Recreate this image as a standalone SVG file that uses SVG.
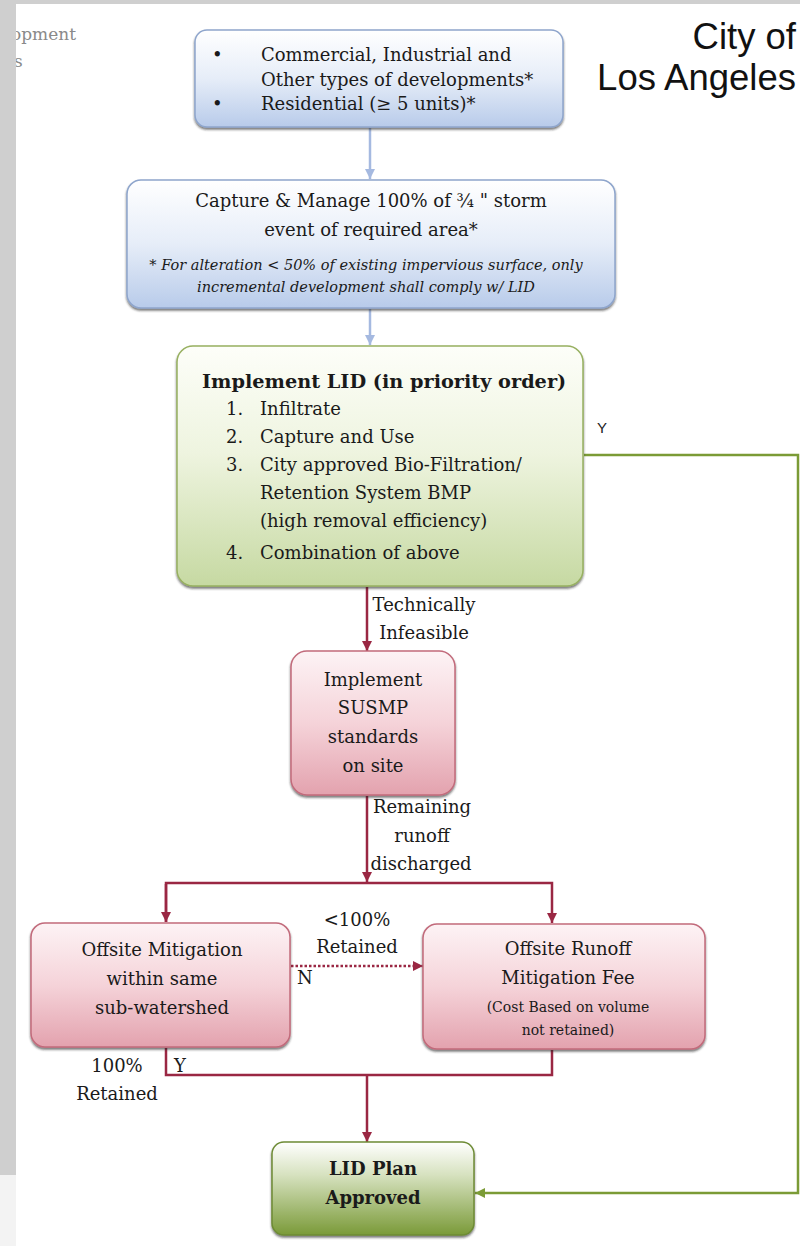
<svg xmlns="http://www.w3.org/2000/svg" width="800" height="1246" viewBox="0 0 800 1246">
<style>
.t{font-family:"DejaVu Serif","Liberation Serif",serif;font-size:18px;fill:#1a1a1a}
.c{text-anchor:middle}
.b{font-weight:bold}
.i{font-style:italic;font-size:14.5px}
.s{font-size:14px}
.h{font-size:19.3px}
.red{stroke:#9a2743;stroke-width:2.5;fill:none}
.grn{stroke:#7b9b36;stroke-width:2.5;fill:none}
.blu{stroke:#a5b9e0;stroke-width:2.5;fill:none}
</style>
<defs>
<linearGradient id="gBlue" x1="0" y1="0" x2="0" y2="1"><stop offset="0" stop-color="#ffffff"/><stop offset="0.5" stop-color="#e6edf8"/><stop offset="1" stop-color="#b8cbea"/></linearGradient>
<linearGradient id="gGreen" x1="0" y1="0" x2="0" y2="1"><stop offset="0" stop-color="#fdfef9"/><stop offset="0.45" stop-color="#eef4df"/><stop offset="1" stop-color="#c6d9a2"/></linearGradient>
<linearGradient id="gPink" x1="0" y1="0" x2="0" y2="1"><stop offset="0" stop-color="#fdf3f5"/><stop offset="0.5" stop-color="#f5d3d9"/><stop offset="1" stop-color="#e3a2ae"/></linearGradient>
<linearGradient id="gOk" x1="0" y1="0" x2="0" y2="1"><stop offset="0" stop-color="#ffffff"/><stop offset="0.35" stop-color="#d7e2c0"/><stop offset="1" stop-color="#7a9a38"/></linearGradient>
<filter id="sh" x="-5%" y="-5%" width="110%" height="115%"><feDropShadow dx="0" dy="2" stdDeviation="1.2" flood-color="#222" flood-opacity="0.6"/></filter>
<marker id="aR" markerUnits="userSpaceOnUse" markerWidth="11" markerHeight="11" refX="10" refY="5" orient="auto"><path d="M0,0 L10,5 L0,10 z" fill="#9a2743"/></marker>
<marker id="aB" markerUnits="userSpaceOnUse" markerWidth="11" markerHeight="11" refX="10" refY="5" orient="auto"><path d="M0,0 L10,5 L0,10 z" fill="#a5b9e0"/></marker>
<marker id="aG" markerUnits="userSpaceOnUse" markerWidth="11" markerHeight="11" refX="10" refY="5" orient="auto"><path d="M0,0 L10,5 L0,10 z" fill="#7b9b36"/></marker>
</defs>
<rect x="0" y="0" width="800" height="1246" fill="#ffffff"/>
<text x="11" y="40" font-family="DejaVu Serif,serif" font-size="17" fill="#8a8a8a">opment</text>
<text x="14" y="67" font-family="DejaVu Serif,serif" font-size="17" fill="#8a8a8a">s</text>
<rect x="0" y="0" width="800" height="4" fill="#cfcfcf"/>
<rect x="0" y="0" width="16" height="1175" fill="#cfcfcf"/>
<rect x="0" y="1175" width="16" height="71" fill="#f3f3f3"/>
<g id="title">
<text x="796" y="49" font-family="Liberation Sans,Arial,sans-serif" font-size="36.5" text-anchor="end" fill="#111">City of</text>
<text x="796" y="90" font-family="Liberation Sans,Arial,sans-serif" font-size="36.5" text-anchor="end" fill="#111">Los Angeles</text>
</g>
<g id="connectors">
<line class="blu" x1="370" y1="128" x2="370" y2="179" marker-end="url(#aB)"/>
<line class="blu" x1="370" y1="309" x2="370" y2="345" marker-end="url(#aB)"/>
<line class="red" x1="367" y1="587" x2="367" y2="651" marker-end="url(#aR)"/>
<line class="red" x1="367" y1="796" x2="367" y2="882" marker-end="url(#aR)"/>
<polyline class="red" points="166,922 166,883 552,883 552,923" marker-end="url(#aR)"/>
<line class="red" x1="166" y1="884" x2="166" y2="922" marker-end="url(#aR)"/>
<line class="red" x1="291" y1="966" x2="423" y2="966" stroke-dasharray="2.5 2" marker-end="url(#aR)"/>
<polyline class="red" points="166,1048 166,1075 552,1075 552,1050"/>
<line class="red" x1="367" y1="1075" x2="367" y2="1142" marker-end="url(#aR)"/>
<polyline class="grn" points="584,455 798,455 798,1193 475,1193" marker-end="url(#aG)"/>
<text class="t c" x="424" y="611">Technically</text>
<text class="t c" x="424" y="639">Infeasible</text>
<text class="t c" x="422" y="813">Remaining</text>
<text class="t c" x="422" y="842">runoff</text>
<text class="t c" x="421" y="870">discharged</text>
<text class="t c" x="357" y="926">&lt;100%</text>
<text class="t c" x="357" y="953">Retained</text>
<text class="t" x="297" y="984">N</text>
<text class="t c" x="117" y="1072">100%</text>
<text class="t c" x="117" y="1100">Retained</text>
<text class="t" x="174" y="1072">Y</text>
<text x="597" y="433" font-family="Liberation Sans,Arial,sans-serif" font-size="15" fill="#222">Y</text>
</g>
<g id="n1">
<rect x="195" y="30" width="368" height="97" rx="12" fill="url(#gBlue)" stroke="#8ea5cc" stroke-width="1.5" filter="url(#sh)"/>
<text class="t" x="212" y="61">•</text>
<text class="t" x="261" y="61">Commercial, Industrial and</text>
<text class="t" x="261" y="86">Other types of developments*</text>
<text class="t" x="212" y="110">•</text>
<text class="t" x="261" y="110">Residential (≥ 5 units)*</text>
</g>
<g id="n2">
<rect x="127" y="180" width="488" height="128" rx="14" fill="url(#gBlue)" stroke="#8ea5cc" stroke-width="1.5" filter="url(#sh)"/>
<text class="t c" x="371" y="207">Capture &amp; Manage 100% of ¾ " storm</text>
<text class="t c" x="371" y="236">event of required area*</text>
<text class="t c i" x="366" y="270">* For alteration &lt; 50% of existing impervious surface, only</text>
<text class="t c i" x="366" y="292">incremental development shall comply w/ LID</text>
</g>
<g id="n3">
<rect x="177" y="346" width="406" height="240" rx="16" fill="url(#gGreen)" stroke="#97b060" stroke-width="1.5" filter="url(#sh)"/>
<text class="t b h" x="202" y="388">Implement LID (in priority order)</text>
<text class="t" x="226" y="415">1.</text>
<text class="t" x="260" y="415">Infiltrate</text>
<text class="t" x="226" y="443">2.</text>
<text class="t" x="260" y="443">Capture and Use</text>
<text class="t" x="226" y="471">3.</text>
<text class="t" x="260" y="471">City approved Bio-Filtration/</text>
<text class="t" x="260" y="499">Retention System BMP</text>
<text class="t" x="260" y="527">(high removal efficiency)</text>
<text class="t" x="226" y="559">4.</text>
<text class="t" x="260" y="559">Combination of above</text>
</g>
<g id="n4">
<rect x="291" y="651" width="164" height="144" rx="16" fill="url(#gPink)" stroke="#c26b7b" stroke-width="1.5" filter="url(#sh)"/>
<text class="t c" x="373" y="686">Implement</text>
<text class="t c" x="373" y="714">SUSMP</text>
<text class="t c" x="373" y="743">standards</text>
<text class="t c" x="373" y="772">on site</text>
</g>
<g id="n5">
<rect x="31" y="923" width="259" height="124" rx="14" fill="url(#gPink)" stroke="#c26b7b" stroke-width="1.5" filter="url(#sh)"/>
<text class="t c" x="162" y="956">Offsite Mitigation</text>
<text class="t c" x="162" y="985">within same</text>
<text class="t c" x="162" y="1014">sub-watershed</text>
</g>
<g id="n6">
<rect x="423" y="924" width="282" height="125" rx="14" fill="url(#gPink)" stroke="#c26b7b" stroke-width="1.5" filter="url(#sh)"/>
<text class="t c" x="568" y="955">Offsite Runoff</text>
<text class="t c" x="568" y="984">Mitigation Fee</text>
<text class="t c s" x="568" y="1012">(Cost Based on volume</text>
<text class="t c s" x="568" y="1035">not retained)</text>
</g>
<g id="n7">
<rect x="272" y="1142" width="202" height="93" rx="12" fill="url(#gOk)" stroke="#6d8b34" stroke-width="1.5" filter="url(#sh)"/>
<text class="t c b" x="373" y="1175">LID Plan</text>
<text class="t c b" x="373" y="1204">Approved</text>
</g>
</svg>
